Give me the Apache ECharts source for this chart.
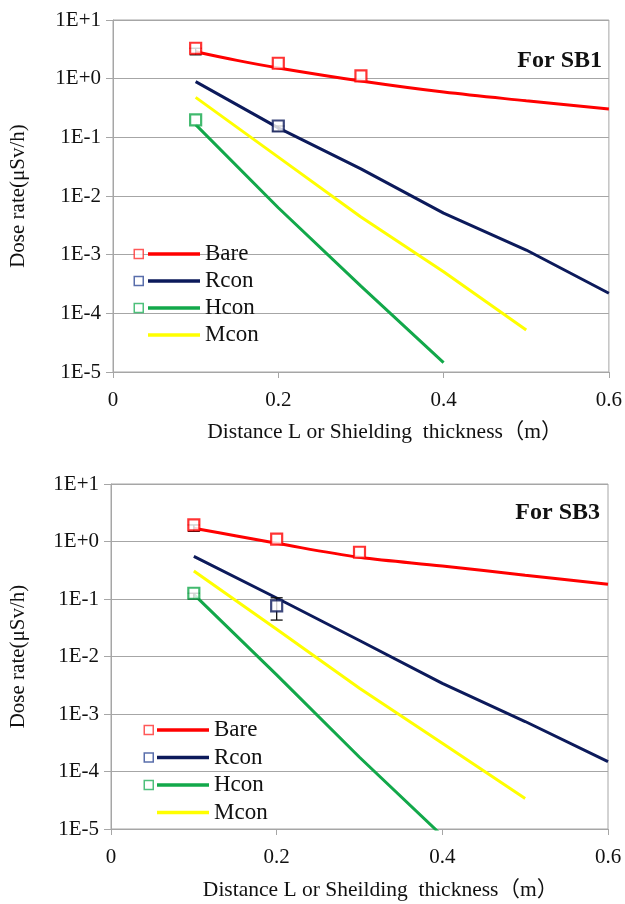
<!DOCTYPE html>
<html><head><meta charset="utf-8">
<script src="https://cdn.jsdelivr.net/npm/echarts@6/dist/echarts.min.js"></script>
<style>html,body{margin:0;padding:0;background:#fff}#c{width:625px;height:904px}</style>
</head><body><div id="c"></div>
<script>
// ---- data ----
const xBare = [0.1, 0.15, 0.2, 0.3, 0.4, 0.5, 0.6];
const xRcon = [0.1, 0.2, 0.3, 0.4, 0.5, 0.6];
const xMcon = [0.1, 0.2, 0.3, 0.4, 0.5];
const xHcon = [0.1, 0.2, 0.3, 0.4];
const xTicks = ['0', '0.2', '0.4', '0.6'];

// SB1 calculated
const sb1Bare = [2.88, 2.05, 1.52, 0.91, 0.59, 0.42, 0.305];
const sb1Rcon = [0.89, 0.145, 0.029, 0.0051, 0.0012, 0.00022];
const sb1Mcon = [0.48, 0.046, 0.0044, 0.00051, 0.000052];
const sb1Hcon = [0.165, 0.0063, 0.00029, 0.0000144];
// SB1 measured
const sb1BareMeasX = [0.1, 0.2, 0.3];
const sb1BareMeas = [3.3, 1.83, 1.12];
const sb1RconMeasX = [0.2];
const sb1RconMeas = [0.156];
const sb1HconMeasX = [0.1];
const sb1HconMeas = [0.198];
// SB1 error bars: x, low, high
const sb1Err = [[0.1, 2.55, 3.3], [0.2, 0.128, 0.156]];

// SB3 calculated
const sb3Bare = [1.70, 1.26, 0.93, 0.53, 0.375, 0.26, 0.18];
const sb3Rcon = [0.55, 0.104, 0.019, 0.0034, 0.00074, 0.000148];
const sb3Mcon = [0.307, 0.0297, 0.0028, 0.00031, 0.000034];
const sb3Hcon = [0.12, 0.0048, 0.000177, 0.0000076];
// SB3 measured
const sb3BareMeasX = [0.1, 0.2, 0.3];
const sb3BareMeas = [1.94, 1.10, 0.65];
const sb3RconMeasX = [0.2];
const sb3RconMeas = [0.076];
const sb3HconMeasX = [0.1];
const sb3HconMeas = [0.126];
const sb3Err = [[0.1, 1.5, 1.94], [0.2, 0.043, 0.105], [0.1, 0.1, 0.126]];

// ---- style ----
const FONT = '"Liberation Serif", "Times New Roman", "Noto Sans CJK JP", serif';
const RED = '#ff0000', NAVY = '#0c1a5b', GREEN = '#12a84a', YELLOW = '#ffff00';
const GRIDC = '#a6a6a6';
const COLORS = { Bare: RED, Rcon: NAVY, Hcon: GREEN, Mcon: YELLOW };

const zip = (xs, ys) => xs.map((x, i) => [x, ys[i]]);

function lineS(name, xs, ys, color, idx, smooth) {
  return { type: 'line', name, data: zip(xs, ys), xAxisIndex: idx, yAxisIndex: idx,
    symbol: 'none', showSymbol: false, smooth: smooth ? 0.35 : false, lineStyle: { color, width: 3 },
    itemStyle: { color }, z: 2, silent: true, clip: true };
}
function measS(name, xs, ys, color, idx) {
  return { type: 'scatter', name, data: zip(xs, ys), xAxisIndex: idx, yAxisIndex: idx,
    symbol: 'rect', symbolSize: 11,
    itemStyle: { color: '#fff', borderColor: color, borderWidth: 2.2 }, z: 5, silent: true };
}
function errS(data, idx) {
  return { type: 'custom', name: 'err' + idx, xAxisIndex: idx, yAxisIndex: idx, z: 3, silent: true,
    data, encode: { x: 0, y: [1, 2] },
    renderItem: (params, api) => {
      const x = api.value(0);
      const lo = api.coord([x, api.value(1)]);
      const hi = api.coord([x, api.value(2)]);
      const st = { stroke: '#111', lineWidth: 1.3 };
      return { type: 'group', children: [
        { type: 'line', shape: { x1: lo[0], y1: lo[1], x2: hi[0], y2: hi[1] }, style: st },
        { type: 'line', shape: { x1: lo[0] - 6, y1: lo[1], x2: lo[0] + 6, y2: lo[1] }, style: st },
        { type: 'line', shape: { x1: hi[0] - 6, y1: hi[1], x2: hi[0] + 6, y2: hi[1] }, style: st }
      ]};
    } };
}

function yFmt(v) {
  const e = Math.round(Math.log10(v));
  return '1E' + (e >= 0 ? '+' : '-') + Math.abs(e);
}
function xAx(idx, title, padLeft, gap) {
  return { type: 'value', gridIndex: idx, min: 0, max: 0.6, interval: 0.2,
    axisLine: { show: true, lineStyle: { color: GRIDC, width: 1 } },
    axisTick: { show: true, inside: false, length: 6, lineStyle: { color: GRIDC } },
    splitLine: { show: false },
    axisLabel: { margin: 18, color: '#111', fontFamily: FONT, fontSize: 21,
      formatter: (v) => xTicks[Math.round(v / 0.2)] },
    name: title, nameLocation: 'middle', nameGap: gap,
    nameTextStyle: { fontFamily: FONT, fontSize: 21.5, color: '#111', padding: [0, 0, 0, padLeft] } };
}
function yAx(idx, gap) {
  return { type: 'log', gridIndex: idx, min: 1e-5, max: 10, logBase: 10,
    axisLine: { show: true, lineStyle: { color: GRIDC, width: 1 } },
    axisTick: { show: true, inside: false, length: 7, lineStyle: { color: GRIDC } },
    splitLine: { show: true, lineStyle: { color: GRIDC, width: 1 } },
    minorTick: { show: false }, minorSplitLine: { show: false },
    axisLabel: { margin: 12, color: '#111', fontFamily: FONT, fontSize: 21, formatter: yFmt },
    name: 'Dose rate(\u03BCSv/h)', nameLocation: 'middle', nameGap: gap, nameRotate: 90,
    nameTextStyle: { fontFamily: FONT, fontSize: 21, color: '#111' } };
}
function legLines(left, top, gap) {
  const it = (n) => ({ name: n, icon: 'rect', itemStyle: { color: COLORS[n] } });
  return { orient: 'vertical', left, top, padding: 0, itemWidth: 52, itemHeight: 3.5, itemGap: gap,
    selectedMode: false, data: ['Bare', 'Rcon', 'Hcon', 'Mcon'].map(it),
    textStyle: { fontFamily: FONT, fontSize: 23, lineHeight: 27, color: '#111' } };
}
function legMarks(left, top, gap) {
  const it = (n, c) => ({ name: n, icon: 'rect', itemStyle: { color: '#fff', borderColor: c, borderWidth: 1.5 } });
  return { orient: 'vertical', left, top, padding: 0, itemWidth: 9, itemHeight: 9, itemGap: gap,
    selectedMode: false, formatter: () => ' ',
    data: [it('Bare ', '#ff3030'), it('Rcon ', '#2f4a96'), it('Hcon ', '#22b05a')],
    textStyle: { fontFamily: FONT, fontSize: 23, lineHeight: 27, color: '#111' } };
}

const option = {
  animation: false,
  backgroundColor: '#fff',
  grid: [
    { left: 113, top: 20, width: 498, height: 352, show: true, borderColor: GRIDC, borderWidth: 1, backgroundColor: 'transparent' },
    { left: 111, top: 484, width: 497, height: 345, show: true, borderColor: GRIDC, borderWidth: 1, backgroundColor: 'transparent' }
  ],
  xAxis: [
    xAx(0, 'Distance L or Shielding  thickness\uFF08m\uFF09', 48, 50),
    xAx(1, 'Distance L or Sheilding  thickness\uFF08m\uFF09', 42, 51)
  ],
  yAxis: [yAx(0, 84), yAx(1, 82)],
  legend: [
    legLines(148, 240.5, 0), legMarks(133.5, 240.5, 0),
    legLines(157, 716.5, 0.5), legMarks(143.5, 716.5, 0.5)
  ],
  graphic: [
    { type: 'text', x: 602, y: 61, style: { text: 'For SB1', align: 'right', verticalAlign: 'middle',
      fontFamily: FONT, fontSize: 24, fontWeight: 'bold', fill: '#111' } },
    { type: 'text', x: 600, y: 513, style: { text: 'For SB3', align: 'right', verticalAlign: 'middle',
      fontFamily: FONT, fontSize: 24, fontWeight: 'bold', fill: '#111' } }
  ],
  series: [
    lineS('Bare', xBare, sb1Bare, RED, 0, true),
    lineS('Rcon', xRcon, sb1Rcon, NAVY, 0, false),
    lineS('Hcon', xHcon, sb1Hcon, GREEN, 0, false),
    lineS('Mcon', xMcon, sb1Mcon, YELLOW, 0, false),
    errS(sb1Err, 0),
    measS('Bare ', sb1BareMeasX, sb1BareMeas, RED, 0),
    measS('Rcon ', sb1RconMeasX, sb1RconMeas, NAVY, 0),
    measS('Hcon ', sb1HconMeasX, sb1HconMeas, GREEN, 0),

    lineS('Bare', xBare, sb3Bare, RED, 1, true),
    lineS('Rcon', xRcon, sb3Rcon, NAVY, 1, false),
    lineS('Hcon', xHcon, sb3Hcon, GREEN, 1, false),
    lineS('Mcon', xMcon, sb3Mcon, YELLOW, 1, false),
    errS(sb3Err, 1),
    measS('Bare ', sb3BareMeasX, sb3BareMeas, RED, 1),
    measS('Rcon ', sb3RconMeasX, sb3RconMeas, NAVY, 1),
    measS('Hcon ', sb3HconMeasX, sb3HconMeas, GREEN, 1)
  ]
};
const chart = echarts.init(document.getElementById('c'), null, { renderer: 'canvas' });
chart.setOption(option);
</script>
</body></html>
